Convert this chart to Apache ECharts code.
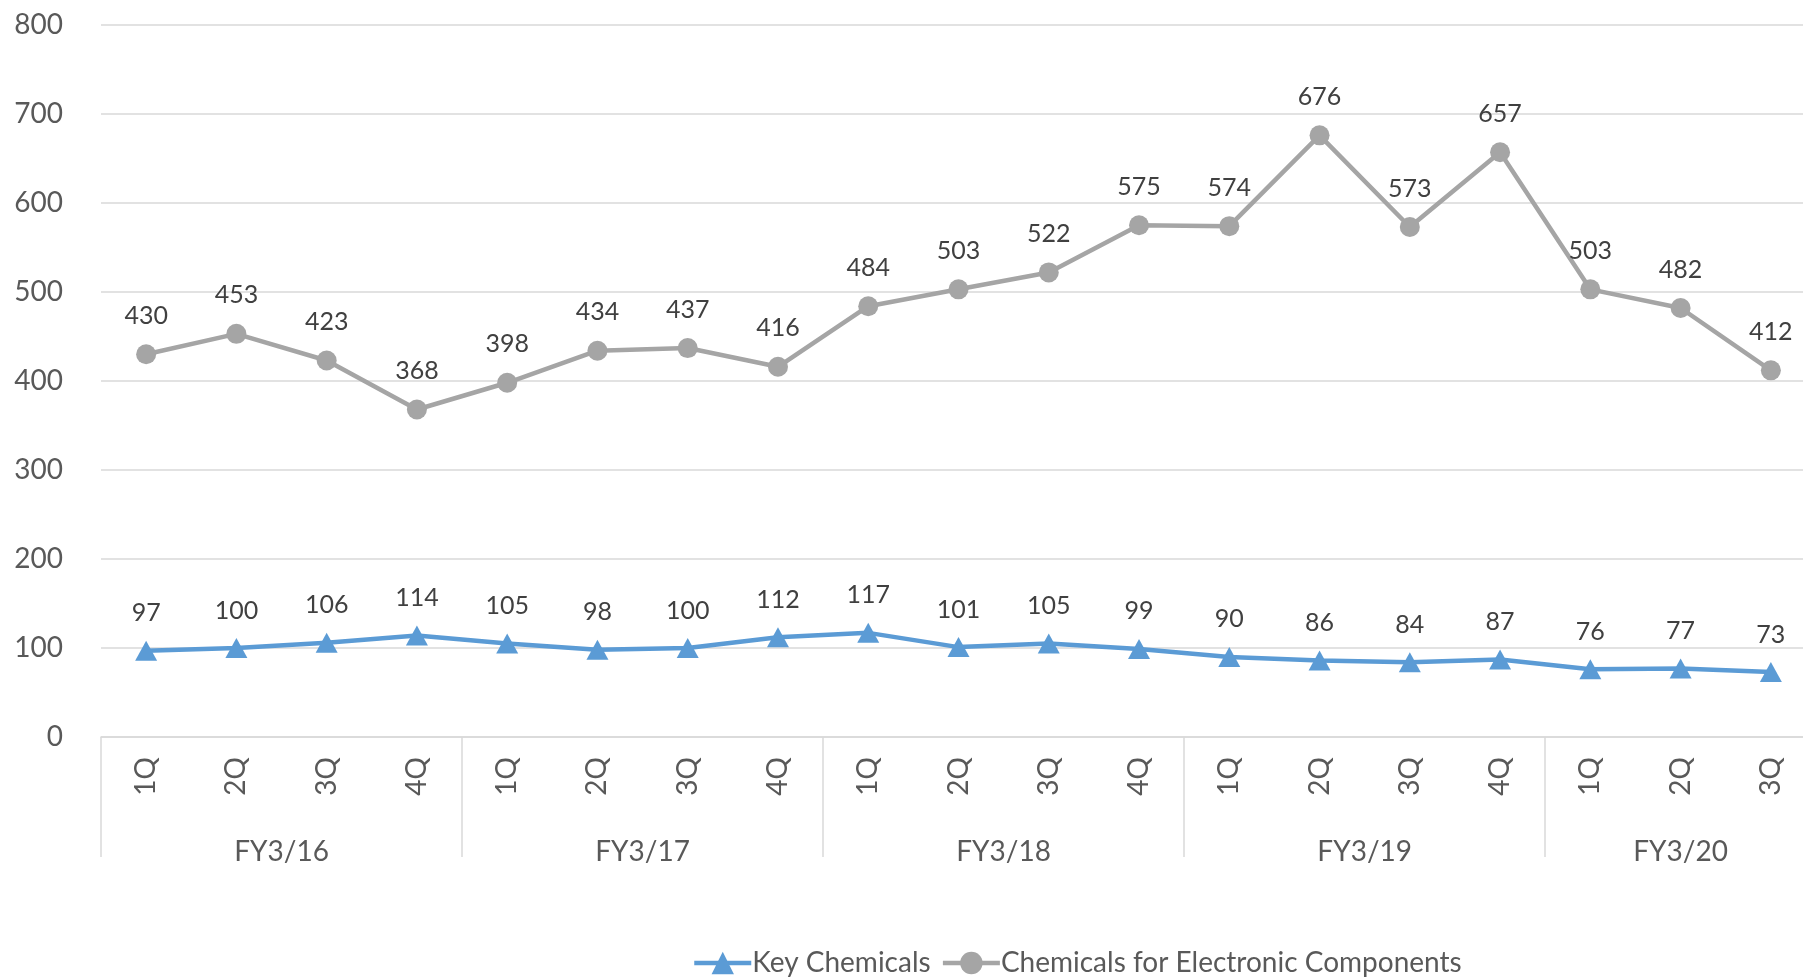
<!DOCTYPE html>
<html lang="en">
<head>
    <meta charset="UTF-8"/>
    <title>Key Chemicals / Chemicals for Electronic Components</title>
    <script src="https://cdn.jsdelivr.net/npm/echarts@6/dist/echarts.min.js"></script>
    <style>
        html, body { margin: 0; padding: 0; background: #fff; }
    </style>
</head>
<body>
<div id="main" style="width: 1803px;height:977px;"></div>

<script type="text/javascript">
    // quarters on the lower axis, fiscal years underneath
    var quarters = ['1Q', '2Q', '3Q', '4Q', '1Q', '2Q', '3Q', '4Q', '1Q', '2Q', '3Q', '4Q',
        '1Q', '2Q', '3Q', '4Q', '1Q', '2Q', '3Q'];
    var fiscalYears = ['FY3/16', 'FY3/17', 'FY3/18', 'FY3/19', 'FY3/20'];
    // where each year label sits, in quarter index units
    var yearCenters = [1.5, 5.5, 9.5, 13.5, 17];

    var keyChemicals = [97, 100, 106, 114, 105, 98, 100, 112, 117, 101, 105, 99, 90, 86, 84, 87, 76, 77, 73];
    var electronicChemicals = [430, 453, 423, 368, 398, 434, 437, 416, 484, 503, 522, 575, 574, 676, 573, 657, 503, 482, 412];

    var font = 'Lato, "Open Sans", sans-serif';
    var myChart = echarts.init(document.getElementById('main'));

    var option = {
        textStyle: { fontFamily: font },
        animation: false,
        grid: {
            left: 101, top: 25, width: 1715, height: 712,
            outerBoundsMode: 'none'
        },
        legend: {
            left: 687,
            top: 944,
            itemWidth: 57,
            itemHeight: 28,
            itemGap: 10,
            lineStyle: { width: 4.5 },
            textStyle: { fontFamily: font, fontSize: 28, color: '#595959', padding: [0, 0, 0, -4] },
            data: ['Key Chemicals', 'Chemicals for Electronic Components']
        },
        xAxis: [
            {
                type: 'category',
                data: quarters,
                position: 'bottom',
                axisLine: { lineStyle: { color: '#d9d9d9', width: 1.5 } },
                axisTick: {
                    show: true,
                    length: 120,
                    interval: function (idx) { return idx % 4 === 0; },
                    lineStyle: { color: '#d9d9d9', width: 1.5 }
                },
                axisLabel: {
                    rotate: 90,
                    interval: 0,
                    margin: 20,
                    fontSize: 28,
                    color: '#595959',
                    fontFamily: font
                }
            },
            {
                type: 'value',
                position: 'bottom',
                min: -0.5,
                max: 18.5,
                interval: 0.5,
                axisLine: { show: false },
                axisTick: { show: false },
                splitLine: { show: false },
                axisLabel: {
                    margin: 101,
                    fontSize: 28,
                    color: '#595959',
                    fontFamily: font,
                    formatter: function (v) {
                        var i = yearCenters.indexOf(v);
                        return i >= 0 ? fiscalYears[i] : '';
                    }
                }
            }
        ],
        yAxis: {
            type: 'value',
            min: 0,
            max: 800,
            interval: 100,
            axisLine: { show: false },
            axisTick: { show: false },
            splitLine: { lineStyle: { color: '#d9d9d9', width: 1.5 } },
            axisLabel: { margin: 38, fontSize: 28, color: '#595959', fontFamily: font }
        },
        series: [
            {
                name: 'Key Chemicals',
                type: 'line',
                data: keyChemicals,
                symbol: 'triangle',
                symbolSize: [22, 20],
                itemStyle: { color: '#5b9bd5' },
                lineStyle: { color: '#5b9bd5', width: 4.5 },
                label: {
                    show: true, position: 'top', distance: 15,
                    fontSize: 25, color: '#404040', fontFamily: font
                }
            },
            {
                name: 'Chemicals for Electronic Components',
                type: 'line',
                data: electronicChemicals,
                symbol: 'circle',
                symbolSize: 20,
                itemStyle: { color: '#a5a5a5' },
                lineStyle: { color: '#a5a5a5', width: 4.5 },
                label: {
                    show: true, position: 'top', distance: 16,
                    fontSize: 25, color: '#404040', fontFamily: font
                }
            }
        ]
    };

    myChart.setOption(option);
</script>

</body>
</html>
